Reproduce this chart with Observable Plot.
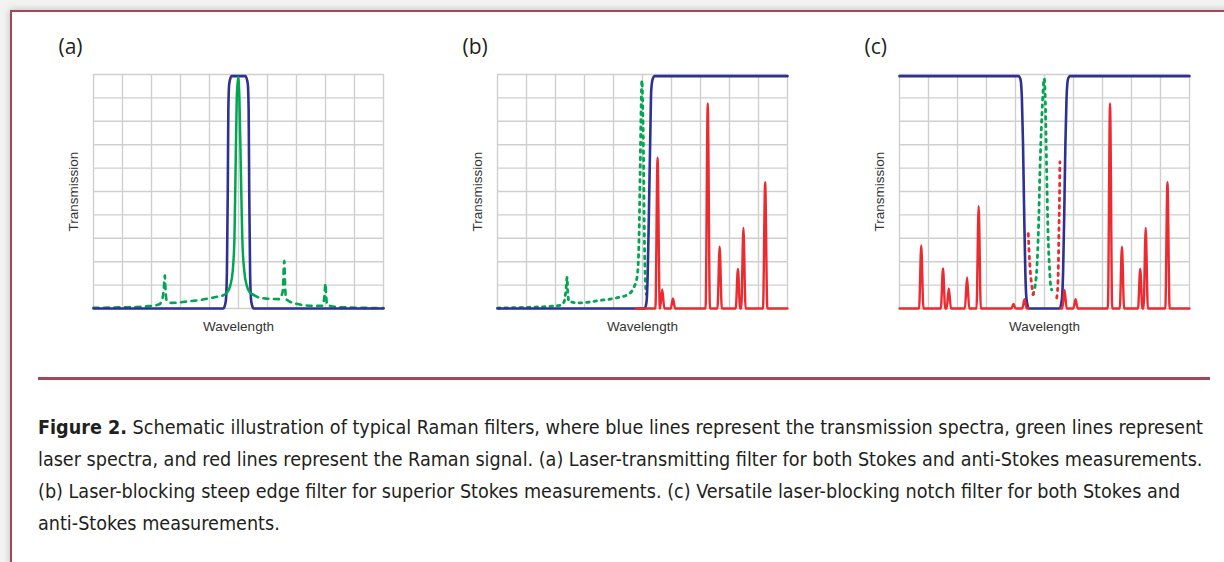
<!DOCTYPE html>
<html>
<head>
<meta charset="utf-8">
<script src="https://cdn.jsdelivr.net/npm/d3@7"></script>
<script src="https://cdn.jsdelivr.net/npm/@observablehq/plot@0.6"></script>
<style>
  html, body { margin: 0; padding: 0; }
  body { width: 1224px; height: 562px; overflow: hidden; background: #f2f2f2; position: relative; font-family: "Liberation Sans", Arial, sans-serif; }
  #frame { position: absolute; left: 10px; top: 10px; width: 1300px; height: 700px; border: 2px solid #a0475b; background: #fff; box-shadow: 0 0 7px rgba(0,0,0,0.22); }
  .panel { position: absolute; top: 30px; width: 400px; height: 310px; }
  .panel svg { max-width: none !important; }
  #sep { position: absolute; left: 38px; top: 377px; width: 1172px; height: 2.5px; background: #a0475b; box-shadow: 0 7px 9px -1px rgba(0,0,0,0.10); }
  .cap { position: absolute; left: 38px; white-space: nowrap; font-family: "DejaVu Sans Condensed", "DejaVu Sans", sans-serif; font-stretch: condensed; font-size: 19.5px; line-height: 32px; color: #231f20; transform-origin: 0 50%; }
  .cap b { font-weight: bold; }
</style>
</head>
<body>
<div id="frame"></div>
<div id="pa" class="panel" style="left:48px"></div>
<div id="pb" class="panel" style="left:452px"></div>
<div id="pc" class="panel" style="left:854px"></div>
<div id="sep"></div>
<div id="caption"></div>
<script>
// ---------- data ----------
const gridTicks = [0, 1, 2, 3, 4, 5, 6, 7, 8, 9, 10];
const panelLabels = ["(a)", "(b)", "(c)"];
const xLabel = "Wavelength";
const yLabel = "Transmission";

// Panel (a): laser-transmitting band-pass filter
const blueA = [[0,0],[4.48,0],[4.56,0.3],[4.6,1.5],[4.63,5],[4.65,8.5],[4.68,9.6],[4.76,9.93],[5.24,9.93],[5.32,9.6],[5.35,8.5],[5.37,5],[5.4,1.5],[5.44,0.3],[5.52,0],[10,0]];
const greenCoreA = [[4.45,0.55],[4.6,0.68],[4.72,1.0],[4.8,1.6],[4.86,3],[4.9,6],[4.94,9],[4.99,9.9],[5.03,9],[5.08,6],[5.13,3],[5.2,1.6],[5.28,1.0],[5.4,0.68],[5.52,0.58]];
const greenWingLeftA = [[0,0.03],[1.0,0.05],[1.9,0.1],[2.25,0.17],[2.35,0.3],[2.42,0.8],[2.46,1.42],[2.48,0.9],[2.52,0.35],[2.7,0.24],[3.3,0.31],[3.7,0.37],[4.1,0.46],[4.45,0.55]];
const greenWingRightA = [[5.52,0.58],[5.7,0.47],[6.0,0.42],[6.4,0.4],[6.52,0.7],[6.58,2.04],[6.6,1.2],[6.64,0.4],[7.0,0.2],[7.5,0.12],[7.9,0.12],[7.96,0.5],[8.0,1.07],[8.02,0.6],[8.06,0.15],[8.35,0.07],[8.9,0.04],[10,0.02]];

// Panel (b): steep edge (long-pass) filter
const blueB = [[0,0],[5.08,0],[5.14,0.3],[5.18,1.5],[5.22,4],[5.27,7.5],[5.3,9.3],[5.35,9.8],[5.42,9.93],[10,9.93]];
const greenB = [[0,0.02],[1.0,0.05],[1.9,0.1],[2.2,0.15],[2.3,0.3],[2.36,0.8],[2.4,1.33],[2.42,0.8],[2.46,0.3],[2.8,0.24],[3.5,0.34],[4.1,0.45],[4.5,0.6],[4.7,0.9],[4.82,1.4],[4.88,3],[4.92,6],[4.95,8.5],[4.98,9.75],[5.01,8.5],[5.04,6],[5.06,3.5],[5.09,1.5],[5.13,0.6]];
const redStartB = 4.77;
const redPeaksB = [[5.52,6.44],[5.68,0.81],[6.05,0.43],[7.25,8.76],[7.66,2.64],[8.29,1.69],[8.48,3.44],[9.23,5.4]];

// Panel (c): notch filter
const blueC = [[0,9.93],[4.1,9.93],[4.17,9.8],[4.22,9],[4.26,7],[4.3,4],[4.34,1.5],[4.38,0.4],[4.46,0],[5.52,0],[5.6,0.4],[5.64,1.5],[5.68,4],[5.72,7],[5.76,9],[5.81,9.8],[5.88,9.93],[10,9.93]];
const greenC = [[4.6,0.6],[4.68,1.0],[4.74,1.8],[4.79,3.3],[4.85,6.2],[4.93,8.8],[4.99,9.83],[5.03,8.8],[5.07,6.2],[5.12,3.3],[5.17,1.8],[5.21,1.0],[5.25,0.8]];
const redDotLeftC = [[4.44,3.2],[4.47,2.4],[4.51,1.6],[4.56,1.0],[4.62,0.6]];
const redDotRightC = [[5.42,0.45],[5.46,1.0],[5.48,2.0],[5.5,3.5],[5.52,5.0],[5.53,6.26]];
const redRangeLeftC = [0, 4.45];
const redPeaksLeftC = [[0.75,2.69],[1.5,1.71],[1.7,0.86],[2.33,1.33],[2.73,4.37],[3.93,0.19],[4.31,0.4]];
const redRangeRightC = [5.55, 10];
const redPeaksRightC = [[5.69,0.79],[6.07,0.4],[7.26,8.76],[7.67,2.64],[8.3,1.69],[8.49,3.44],[9.24,5.4]];

const captionLines = [
  ["Figure 2.", " Schematic illustration of typical Raman filters, where blue lines represent the transmission spectra, green lines represent"],
  ["", "laser spectra, and red lines represent the Raman signal. (a) Laser-transmitting filter for both Stokes and anti-Stokes measurements."],
  ["", "(b) Laser-blocking steep edge filter for superior Stokes measurements. (c) Versatile laser-blocking notch filter for both Stokes and"],
  ["", "anti-Stokes measurements."]
];

// ---------- styles ----------
const BLUE = "#2e3192", GREEN = "#00a651", RED = "#ed2a30", GRID = "#cfcfcf";

// peak table built from (center, height) pairs
function peakTable(range, peaks) {
  const w = 0.075;
  const pts = [[range[0], 0]];
  for (const [c, h] of peaks) { pts.push([c - w, 0], [c, h], [c + w, 0]); }
  pts.push([range[1], 0]);
  return pts;
}

const line = (data, o) => Plot.line(data, {x: d => d[0], y: d => d[1], curve: "monotone-x", strokeLinejoin: "round", ...o});

function panel(label, marks) {
  return Plot.plot({
    width: 400, height: 310,
    marginLeft: 45, marginRight: 65, marginTop: 44, marginBottom: 32,
    x: {domain: [0, 10], axis: null},
    y: {domain: [0, 10], axis: null},
    style: {background: "transparent", overflow: "visible"},
    marks: [
      Plot.ruleX(gridTicks, {stroke: GRID, strokeWidth: 1.4}),
      Plot.ruleY(gridTicks, {stroke: GRID, strokeWidth: 1.4}),
      ...marks,
      Plot.text([label], {text: d => d, frameAnchor: "top-left", dx: -35, dy: -27, textAnchor: "start", lineAnchor: "middle", fontSize: 21, fontFamily: "Open Sans, sans-serif", fill: "#231f20"}),
      Plot.text([yLabel], {text: d => d, frameAnchor: "left", dx: -20, rotate: -90, textAnchor: "middle", lineAnchor: "middle", fontSize: 13.5, fontFamily: "Liberation Sans, Arial, sans-serif", fill: "#333"}),
      Plot.text([xLabel], {text: d => d, frameAnchor: "bottom", dy: 18, textAnchor: "middle", lineAnchor: "middle", fontSize: 13.5, fontFamily: "Liberation Sans, Arial, sans-serif", fill: "#333"})
    ]
  });
}

document.getElementById("pa").appendChild(panel(panelLabels[0], [
  line(greenWingLeftA, {stroke: GREEN, strokeWidth: 2.6, strokeDasharray: "5,5.5"}),
  line(greenWingRightA, {stroke: GREEN, strokeWidth: 2.6, strokeDasharray: "5,5.5"}),
  line(blueA, {stroke: BLUE, strokeWidth: 2.6}),
  line(greenCoreA, {stroke: GREEN, strokeWidth: 2.5})
]));

document.getElementById("pb").appendChild(panel(panelLabels[1], [
  line(greenB, {stroke: GREEN, strokeWidth: 2.8, strokeDasharray: "2.5,5"}),
  line(blueB, {stroke: BLUE, strokeWidth: 2.6}),
  line(peakTable([redStartB, 10], redPeaksB), {stroke: RED, strokeWidth: 2.4})
]));

document.getElementById("pc").appendChild(panel(panelLabels[2], [
  line(greenC, {stroke: GREEN, strokeWidth: 2.8, strokeDasharray: "2.5,5"}),
  line(redDotLeftC, {stroke: RED, strokeWidth: 2.8, strokeDasharray: "2.5,5"}),
  line(redDotRightC, {stroke: RED, strokeWidth: 2.8, strokeDasharray: "2.5,5"}),
  line(blueC, {stroke: BLUE, strokeWidth: 2.6}),
  line(peakTable(redRangeLeftC, redPeaksLeftC), {stroke: RED, strokeWidth: 2.4}),
  line(peakTable(redRangeRightC, redPeaksRightC), {stroke: RED, strokeWidth: 2.4})
]));

// caption
const cap = document.getElementById("caption");
const centers = [427.5, 459.5, 491.5, 523.5];
const divs = captionLines.map(([bold, rest], i) => {
  const d = document.createElement("div");
  d.className = "cap";
  d.style.top = (centers[i] - 16) + "px";
  if (bold) { const b = document.createElement("b"); b.textContent = bold; d.appendChild(b); }
  d.appendChild(document.createTextNode(rest));
  cap.appendChild(d);
  return d;
});
const w0 = divs[0].getBoundingClientRect().width;
const sx = 1165 / w0;
divs.forEach(d => d.style.transform = `scaleX(${sx})`);
</script>
</body>
</html>
